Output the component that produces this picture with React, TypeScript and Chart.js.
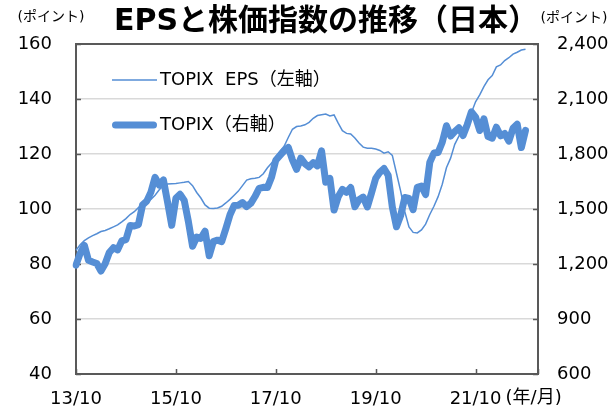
import React, { useEffect, useRef } from 'react';
import { Chart, registerables } from 'chart.js';

Chart.register(...registerables);

// ---- data ----
const startYear = 2013;
const startMonth = 10;
const monthCount = 112; // axis runs 2013/10 .. 2023/01
const monthLabels: string[] = [];
for (let k = 0; k < monthCount; k++) {
  const m = startMonth - 1 + k;
  const y = startYear + Math.floor(m / 12);
  monthLabels.push(`${String(y % 100).padStart(2, '0')}/${(m % 12) + 1}`);
}
const shownTickLabels = ['13/10', '15/10', '17/10', '19/10', '21/10'];

const epsLabel = 'TOPIX  EPS（左軸）';
const topixLabel = 'TOPIX（右軸）';

// TOPIX EPS (left axis, points), monthly from 2013/10
const epsValues = [
  85, 87, 88.5, 89.5, 90.3, 91, 91.8, 92.2, 92.8, 93.5,
  94.2, 95.3, 96.5, 98, 99, 100.5, 101.8, 102.5, 103.5, 105,
  107, 108.5, 109.1, 109.2, 109.3, 109.5, 109.7, 110, 108.5, 106,
  104, 101.5, 100.3, 100.2, 100.4, 101, 102.2, 103.5, 105,
  106.5, 108.5, 110.5, 111, 111.2, 111.5, 112.8, 115, 116.7, 119,
  121, 122.8, 126, 129, 130, 130.2, 130.6, 131.5, 133, 134,
  134.3, 134.5, 133.8, 134.2, 131.2, 128.5, 127.5, 127.3, 125.8, 124,
  122.5, 122.1, 122.1, 121.8, 121.3,
  120.3, 120.8, 119.5, 113, 106.5, 99, 93.5, 91.5, 91.3, 92.4,
  94.5, 98, 101, 104.5, 109, 115, 118.5, 123.5, 126.5, 129.5,
  132.4, 135, 139, 141.5, 144.5, 147, 148.5, 151.7, 152.4, 154,
  155, 156.3, 157, 157.8, 158.1,
];

// TOPIX (right axis, points), monthly from 2013/10
const topixValues = [
  1194, 1258, 1302,
  1220, 1211, 1203, 1162, 1201, 1263, 1289, 1277, 1326, 1333, 1410, 1407,
  1415, 1523, 1543, 1592, 1673, 1630, 1659, 1537, 1411, 1558, 1580, 1547,
  1432, 1297, 1347, 1340, 1379, 1245, 1322, 1330, 1322, 1393, 1469, 1519,
  1521, 1535, 1513, 1531, 1568, 1612, 1618, 1617, 1675, 1766, 1792, 1817,
  1836, 1768, 1716, 1777, 1747, 1730, 1753, 1735, 1817, 1646, 1667, 1494,
  1567, 1607, 1591, 1617, 1512, 1551, 1565, 1511, 1587, 1667, 1700, 1721,
  1684, 1511, 1403, 1464, 1563, 1558, 1496, 1618, 1625, 1579, 1754, 1805,
  1808, 1864, 1954, 1898, 1922, 1943, 1901, 1960, 2030, 2001, 1928, 1992,
  1895, 1886, 1946, 1899, 1912, 1870, 1940, 1963, 1835, 1929,
];

const titleText = 'EPSと株価指数の推移（日本）';
const unitText = '(ポイント)';
const xUnitText = '(年/月)';

// ---- styles ----
const lineColor = '#558ED5';
const frameColor = '#595959';
const gridColor = '#D9D9D9';
const fontFamily = "'DejaVu Sans', 'Noto Sans CJK JP', sans-serif";

const decorPlugin = {
  id: 'decor',
  beforeDatasetsDraw(chart: any) {
    const { ctx, chartArea: a, scales } = chart;
    ctx.save();
    ctx.strokeStyle = frameColor;
    ctx.lineWidth = 2;
    ctx.beginPath();
    ctx.moveTo(a.left - 1, a.top);
    ctx.lineTo(a.right + 1, a.top);
    ctx.stroke();
    const tick = 5;
    ctx.beginPath();
    scales.y.ticks.forEach((t: any) => {
      const py = Math.round(scales.y.getPixelForValue(t.value)) + 0.5;
      ctx.moveTo(a.left, py);
      ctx.lineTo(a.left + tick, py);
    });
    scales.y1.ticks.forEach((t: any) => {
      const py = Math.round(scales.y1.getPixelForValue(t.value)) + 0.5;
      ctx.moveTo(a.right, py);
      ctx.lineTo(a.right - tick, py);
    });
    monthLabels.forEach((lab, i) => {
      if (shownTickLabels.includes(lab) || i === monthCount - 1) {
        const px = Math.round(scales.x.getPixelForValue(i)) + 0.5;
        ctx.moveTo(px, a.bottom);
        ctx.lineTo(px, a.bottom - tick);
      }
    });
    ctx.lineWidth = 1.5;
    ctx.stroke();
    ctx.restore();
  },
  afterDraw(chart: any) {
    const { ctx, chartArea: a, scales } = chart;
    ctx.save();
    ctx.fillStyle = '#000';
    ctx.textBaseline = 'middle';
    // unit labels
    ctx.font = `14px ${fontFamily}`;
    ctx.textAlign = 'center';
    ctx.fillText(unitText, a.left - 25, 17);
    ctx.fillText(unitText, a.right + 36, 18);
    // x unit label
    ctx.font = `18px ${fontFamily}`;
    ctx.textAlign = 'left';
    const lastIdx = monthLabels.indexOf(shownTickLabels[shownTickLabels.length - 1]);
    const lx = scales.x.getPixelForValue(lastIdx);
    ctx.fillText(xUnitText, lx + 30, a.bottom + 24);
    // legend
    const ds = chart.data.datasets;
    const rows = [
      { d: ds[0], y: a.top + 36 },
      { d: ds[1], y: a.top + 81 },
    ];
    rows.forEach((r) => {
      ctx.strokeStyle = r.d.borderColor;
      ctx.lineWidth = r.d.borderWidth;
      ctx.lineCap = r.d.borderWidth > 3 ? 'round' : 'butt';
      ctx.beginPath();
      const inset = r.d.borderWidth > 3 ? r.d.borderWidth / 2 : 0;
      ctx.moveTo(a.left + 36 + inset, r.y);
      ctx.lineTo(a.left + 81 - inset, r.y);
      ctx.stroke();
      ctx.font = `18px ${fontFamily}`;
      ctx.fillText(r.d.label, a.left + 84, r.y);
    });
    ctx.restore();
  },
};

export default function App() {
  const ref = useRef<HTMLCanvasElement>(null);
  useEffect(() => {
    document.body.style.margin = '0';
    if (!ref.current) return;
    const chart = new Chart(ref.current, {
      type: 'line',
      data: {
        labels: monthLabels,
        datasets: [
          {
            label: epsLabel,
            data: epsValues,
            yAxisID: 'y',
            borderColor: lineColor,
            borderWidth: 1.5,
            pointRadius: 0,
            tension: 0,
          },
          {
            label: topixLabel,
            data: topixValues,
            yAxisID: 'y1',
            borderColor: lineColor,
            borderWidth: 7,
            borderJoinStyle: 'round',
            borderCapStyle: 'round',
            pointRadius: 0,
            tension: 0,
          },
        ],
      },
      options: {
        responsive: false,
        animation: false,
        devicePixelRatio: 1,
        layout: { padding: 0 },
        plugins: {
          legend: { display: false },
          tooltip: { enabled: false },
          title: {
            display: true,
            text: titleText,
            align: 'end',
            fullSize: false,
            color: '#000',
            font: { family: fontFamily, size: 30, weight: 'bold', lineHeight: 1.2 },
            padding: { top: 4, bottom: 4 },
          },
        },
        scales: {
          x: {
            type: 'category',
            offset: false,
            grid: { display: false, drawTicks: false },
            border: { display: true, color: frameColor, width: 2 },
            ticks: {
              autoSkip: false,
              maxRotation: 0,
              minRotation: 0,
              padding: 15,
              color: '#000',
              font: { family: fontFamily, size: 18 },
              callback: (_v: any, i: number) =>
                shownTickLabels.includes(monthLabels[i]) ? monthLabels[i] : null,
            },
            afterFit: (s: any) => {
              s.height = 37;
            },
          },
          y: {
            position: 'left',
            min: 40,
            max: 160,
            grid: { color: gridColor, lineWidth: 1.5, drawTicks: false },
            border: { display: true, color: frameColor, width: 2 },
            ticks: {
              stepSize: 20,
              padding: 24,
              color: '#000',
              font: { family: fontFamily, size: 18 },
            },
            afterFit: (s: any) => {
              s.width = 76;
            },
          },
          y1: {
            position: 'right',
            min: 600,
            max: 2400,
            grid: { drawOnChartArea: false, drawTicks: false },
            border: { display: true, color: frameColor, width: 2 },
            ticks: {
              stepSize: 300,
              padding: 19,
              color: '#000',
              font: { family: fontFamily, size: 18 },
              callback: (v: any) => Number(v).toLocaleString('en-US'),
            },
            afterFit: (s: any) => {
              s.width = 72;
            },
          },
        },
      },
      plugins: [decorPlugin],
    } as any);
    return () => chart.destroy();
  }, []);
  return (
    <div style={{ width: 610, height: 411 }}>
      <canvas ref={ref} width={610} height={411} style={{ display: 'block' }} />
    </div>
  );
}
